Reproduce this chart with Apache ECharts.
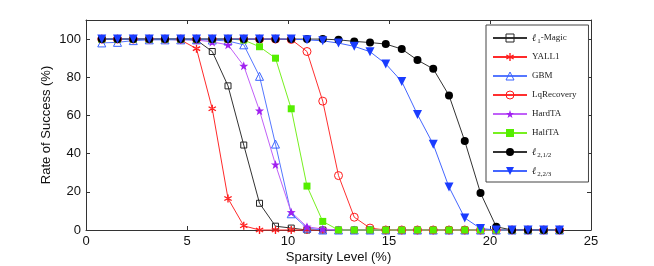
<!DOCTYPE html>
<html>
<head>
<meta charset="utf-8">
<script src="https://cdn.jsdelivr.net/npm/echarts@6/dist/echarts.min.js"></script>
<style>html,body{margin:0;padding:0;background:#fff}#c{width:654px;height:266px}</style>
</head>
<body>
<div id="c"></div>
<script>
// Sparsity levels (%) of the tested points
const sparsity = [0.78,1.56,2.34,3.13,3.91,4.69,5.47,6.25,7.03,7.81,8.59,9.38,10.16,10.94,11.72,12.5,13.28,14.06,14.84,15.63,16.41,17.19,17.97,18.75,19.53,20.31,21.09,21.88,22.66,23.44];
const xTicks = [0,5,10,15,20,25];
const yTicks = [0,20,40,60,80,100];

const l1Magic = [100,100,100,100,100,100,99.5,93.5,75.5,44.5,14,2,1,0,0,0,0,0,0,0,0,0,0,0,0,0,0,0,0,0];
const yall1   = [100,100,100,100,100,99.5,95,63.5,16.5,2.2,0,0,0,0,0,0,0,0,0,0,0,0,0,0,0,0,0,0,0,0];
const gbm     = [98,98.3,99.2,99.6,99.6,99.6,99.6,99.5,99,97,80.5,45,8.5,1,0,0,0,0,0,0,0,0,0,0,0,0,0,0,0,0];
const lqRecovery = [100,100,100,100,100,100,100,100,100,100,100,100,99.8,93.5,67.5,28.5,6.7,1,0,0,0,0,0,0,0,0,0,0,0,0];
const hardTA  = [100,100,100,100,100,99.8,99.5,98.5,97,86,62.5,34.3,9.3,1.7,0.5,0,0,0,0,0,0,0,0,0,0,0,0,0,0,0];
const halfTA  = [100,100,100,100,100,100,100,100,100,99.5,96,90,63.5,23,4.5,0,0,0,0,0,0,0,0,0,0,0,0,0,0,0];
const l21_2   = [100,100,100,100,100,100,100,100,100,100,100,100,100,100,100,99.6,98.8,98.2,97.4,94.8,89,84.4,70.5,46.6,19.4,1.7,0,0,0,0];
const l22_3   = [100,100,100,100,100,100,100,100,100,100,100,100,100,99.6,99.1,97.9,96.2,93.4,87,77.8,60.5,44.9,22.5,6.3,0.8,0,0,0,0,0];

const names = ['l1-Magic','YALL1','GBM','LqRecovery','HardTA','HalfTA','l21/2','l22/3'];
const legendText = {
  'l1-Magic': '{i|ℓ}{s|1}{n|-Magic}',
  'YALL1': '{n|YALL1}',
  'GBM': '{n|GBM}',
  'LqRecovery': '{n|LqRecovery}',
  'HardTA': '{n|HardTA}',
  'HalfTA': '{n|HalfTA}',
  'l21/2': '{i|ℓ}{s|2,1/2}',
  'l22/3': '{i|ℓ}{s|2,2/3}'
};

const STAR = 'path://M0,-10L2.35,-3.24L9.51,-3.09L3.8,1.24L5.88,8.09L0,4L-5.88,8.09L-3.8,1.24L-9.51,-3.09L-2.35,-3.24Z';
const ASTER = 'path://M-0.8,-5L0.8,-5L0.8,5L-0.8,5Z M4.73,1.81L-3.93,-3.19L-4.73,-1.81L3.93,3.19Z M-4.73,1.81L3.93,-3.19L4.73,-1.81L-3.93,3.19Z';
const DOWNTRI = 'path://M0,0L10,0L5,8Z';
const OPENSQ = 'path://M0,0L10,0L10,10L0,10Z';
const OPENTRI = 'path://M5,0L10,8.66L0,8.66Z';
const OPENCIR = 'path://M10,5A5,5,0,1,1,0,5A5,5,0,1,1,10,5Z';

function pairs(arr){ return arr.map((v,i)=>[sparsity[i], v]); }

function mk(name, data, color, symbol, size, lineColor, filled){
  return {
    name, type:'line', data: pairs(data), symbol, symbolSize: size,
    lineStyle:{color: lineColor || color, width:1},
    itemStyle: filled
      ? {color: color, borderWidth: 0}
      : {color: 'rgba(255,255,255,0)', borderColor: color, borderWidth: 1},
    emphasis:{disabled:true}, clip:false, z: 2
  };
}

const series = [
  mk('l1-Magic', l1Magic, '#222222', OPENSQ, 6, '#333333'),
  mk('YALL1', yall1, '#ff1a1a', ASTER, 8, '#ff2a2a', true),
  mk('GBM', gbm, '#3a63ff', OPENTRI, 8, '#5577ff'),
  mk('LqRecovery', lqRecovery, '#ff1a1a', OPENCIR, 8, '#ff3030'),
  mk('HardTA', hardTA, '#a020f0', STAR, 9, '#c060f8', true),
  mk('HalfTA', halfTA, '#55ee00', 'rect', 7, '#77f020', true),
  mk('l21/2', l21_2, '#000000', 'circle', 8, '#333333', true),
  mk('l22/3', l22_3, '#1a3cff', DOWNTRI, 9, '#4466ff', true)
];

const axisColor = '#333';
const chart = echarts.init(document.getElementById('c'), null, {renderer:'canvas'});
chart.setOption({
  animation:false,
  backgroundColor:'#fff',
  textStyle:{fontFamily:'Liberation Sans, Arial, sans-serif'},
  grid:{left:86, right:63, top:20, bottom:36, outerBoundsMode:'none', containLabel:false},
  xAxis:[{
    type:'value', min:xTicks[0], max:xTicks[xTicks.length-1], interval:5,
    name:'Sparsity Level (%)', nameLocation:'middle', nameGap:21, nameMoveOverlap:false,
    nameTextStyle:{fontSize:13, color:'#111'},
    axisLine:{show:true, lineStyle:{color:axisColor, width:1}},
    axisTick:{show:true, inside:true, length:4, lineStyle:{color:axisColor}},
    axisLabel:{fontSize:13, color:'#111', margin:5},
    splitLine:{show:false}
  },{
    type:'value', position:'top', min:0, max:25, interval:5,
    axisLine:{show:true, onZero:false, lineStyle:{color:axisColor, width:1}},
    axisTick:{show:true, inside:true, length:4, lineStyle:{color:axisColor}},
    axisLabel:{show:false}, splitLine:{show:false}
  }],
  yAxis:[{
    type:'value', min:0, max:110, interval:20,
    name:'Rate of Success (%)', nameLocation:'middle', nameGap:33, nameRotate:90, nameMoveOverlap:false,
    nameTextStyle:{fontSize:13, color:'#111'},
    axisLine:{show:true, lineStyle:{color:axisColor, width:1}},
    axisTick:{show:true, inside:true, length:4, lineStyle:{color:axisColor}},
    axisLabel:{fontSize:13, color:'#111', margin:5, formatter:v => yTicks.indexOf(v) >= 0 ? String(v) : ''},
    splitLine:{show:false}
  },{
    type:'value', position:'right', min:0, max:110, interval:20,
    axisLine:{show:true, onZero:false, lineStyle:{color:axisColor, width:1}},
    axisTick:{show:true, inside:true, length:4, lineStyle:{color:axisColor}},
    axisLabel:{show:false}, splitLine:{show:false}
  }],
  legend:{
    orient:'vertical', left:486, top:25,
    data: names,
    itemWidth:34, itemHeight:10, itemGap:5,
    symbolRotate:'inherit',
    itemStyle:{borderWidth:1},
    backgroundColor:'#fff', borderColor:'#444', borderWidth:1, borderRadius:0,
    padding:[6,12,4,6],
    formatter: n => legendText[n],
    textStyle:{
      fontFamily:'Liberation Serif, DejaVu Serif, serif', fontSize:9, color:'#222', lineHeight:14,
      rich:{
        n:{fontFamily:'Liberation Serif, serif', fontSize:9, color:'#222', lineHeight:14},
        i:{fontFamily:'Liberation Serif, serif', fontSize:10, fontStyle:'italic', color:'#222', lineHeight:14},
        s:{fontFamily:'Liberation Serif, serif', fontSize:7, color:'#222', lineHeight:14, verticalAlign:'bottom', padding:[5,0,0,1]}
      }
    },
    selectedMode:false
  },
  series: series
});
</script>
</body>
</html>
